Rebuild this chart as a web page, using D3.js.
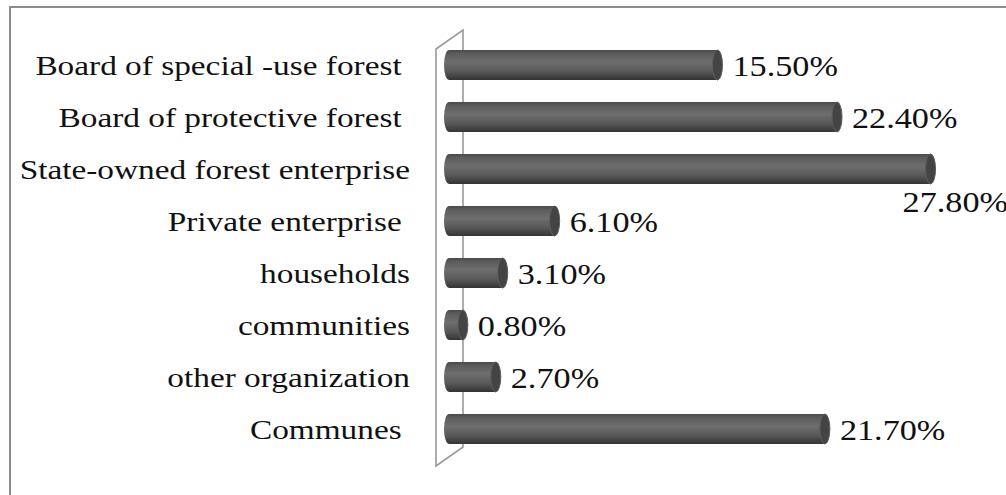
<!DOCTYPE html>
<html>
<head>
<meta charset="utf-8">
<script src="https://cdn.jsdelivr.net/npm/d3@7"></script>
<style>
  html, body { margin: 0; padding: 0; background: #fff; }
  svg { display: block; }
</style>
</head>
<body>
<div id="chart"></div>
<script>
// Categories, top to bottom as drawn
const categories = [
  'Board of special -use forest ',
  'Board of protective forest ',
  'State-owned forest enterprise',
  'Private enterprise ',
  'households',
  'communities',
  'other organization',
  'Communes '
]

// Share of each group (%)
const shares = [15.5, 22.4, 27.8, 6.1, 3.1, 0.8, 2.7, 21.7]

// Value label text
const shareLabels = ['15.50%', '22.40%', '27.80%', '6.10%', '3.10%', '0.80%', '2.70%', '21.70%']

const width = 1006
const height = 495

// the source picture is a bit stretched sideways
const catStretch = 1.19
const valStretch = 1.16

const svg = d3.select('#chart')
  .append('svg')
  .attr('width', width)
  .attr('height', height)

// Outer frame (right and bottom edges fall outside the picture)
svg.append('rect')
  .attr('x', 10)
  .attr('y', 7)
  .attr('width', 1200)
  .attr('height', 800)
  .attr('fill', 'none')
  .attr('stroke', '#8c8c8c')
  .attr('stroke-width', 2)

// Scales
const x = d3.scaleLinear().domain([0, 28]).range([449, 934])
const y = d3.scalePoint().domain(categories).range([65, 429])

const barH = 30
const capRx = 5

// Vertical gradient for the cylinders
const defs = svg.append('defs')
const grad = defs.append('linearGradient')
  .attr('id', 'cyl')
  .attr('x1', 0).attr('y1', 0)
  .attr('x2', 0).attr('y2', 1)
const stops = [
  [0, '#4a4a4a'],
  [0.12, '#5c5c5c'],
  [0.4, '#6e6e6e'],
  [0.7, '#5a5a5a'],
  [1, '#343434']
]
stops.forEach(s => grad.append('stop').attr('offset', s[0]).attr('stop-color', s[1]))

// Back wall (3d side wall behind the bars)
const wallX = 436
const wallTop = 49
const wallBottom = 466
const depthX = 27
const depthY = -19

svg.append('path')
  .attr('fill', 'none')
  .attr('stroke', '#9a9a9a')
  .attr('stroke-width', 1.6)
  .attr('d', `M${wallX},${wallBottom} L${wallX},${wallTop} L${wallX + depthX},${wallTop + depthY} L${wallX + depthX},${wallBottom + depthY} Z`)

// Bars
const bars = svg.append('g')
  .selectAll('g.bar')
  .data(shares)
  .join('g')
  .attr('class', 'bar')

bars.append('path')
  .attr('fill', 'url(#cyl)')
  .attr('d', (d, i) => {
    const cy = y(categories[i])
    const x0 = x(0)
    const x1 = x(d)
    const t = cy - barH / 2
    const b = cy + barH / 2
    return `M${x1},${t} L${x0},${t} A${capRx},${barH / 2} 0 0 0 ${x0},${b} L${x1},${b} Z`
  })

bars.append('ellipse')
  .attr('cx', d => x(d))
  .attr('cy', (d, i) => y(categories[i]))
  .attr('rx', capRx)
  .attr('ry', barH / 2)
  .attr('fill', '#444')
  .attr('stroke', '#5e5e5e')
  .attr('stroke-width', 1)

// Category labels
svg.append('g')
  .selectAll('text')
  .data(categories)
  .join('text')
  .attr('transform', d => `translate(410,${y(d)}) scale(${catStretch},1)`)
  .attr('dy', '0.35em')
  .attr('text-anchor', 'end')
  .style('white-space', 'pre')
  .attr('font-family', '"Liberation Serif", "Times New Roman", serif')
  .attr('font-size', 28)
  .attr('fill', '#111')
  .text(d => d)

// Value labels; the longest bar has its label dropped under the bar end
const maxShare = d3.max(shares)
svg.append('g')
  .selectAll('text')
  .data(shares)
  .join('text')
  .attr('transform', (d, i) => {
    const lx = d === maxShare ? x(d) - 28 : x(d) + capRx + 10
    const ly = y(categories[i]) + (d === maxShare ? 33 : 1)
    return `translate(${lx},${ly}) scale(${valStretch},1)`
  })
  .attr('dy', '0.35em')
  .attr('font-family', '"Liberation Serif", "Times New Roman", serif')
  .attr('font-size', 29.5)
  .attr('fill', '#111')
  .text((d, i) => shareLabels[i])
</script>
</body>
</html>
